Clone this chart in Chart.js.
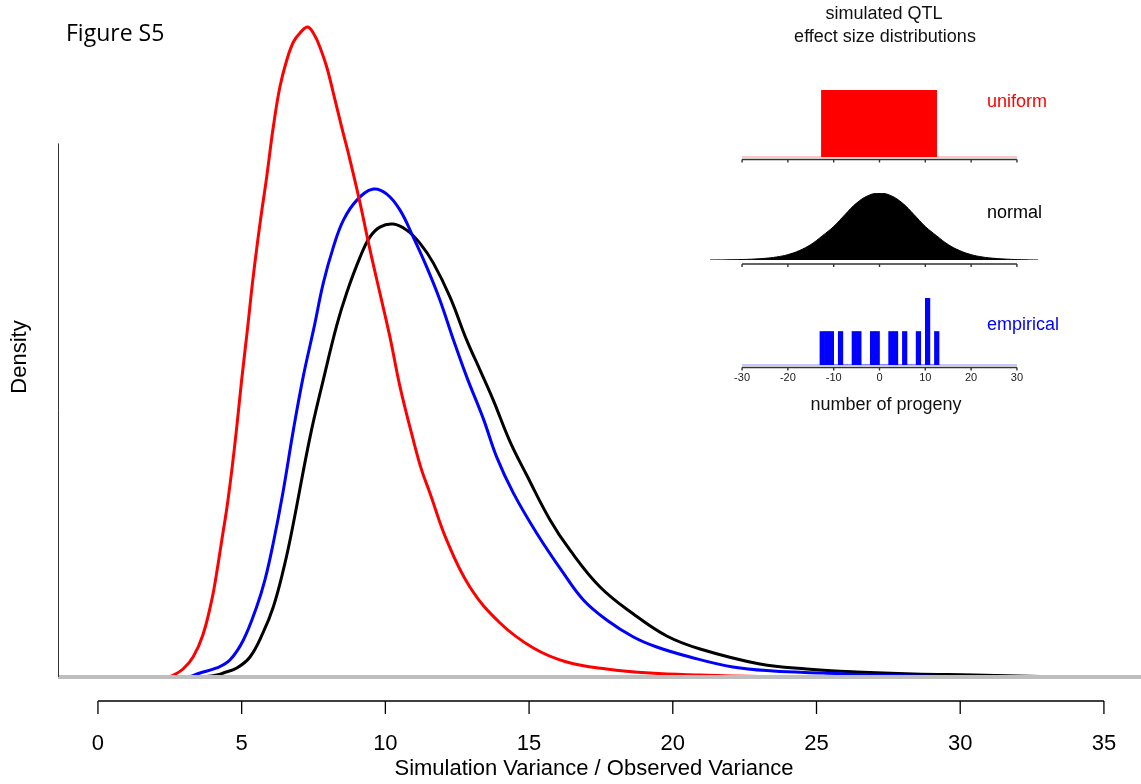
<!DOCTYPE html>
<html>
<head>
<meta charset="utf-8">
<script src="https://cdn.jsdelivr.net/npm/chart.js@4.4.0/dist/chart.umd.min.js"></script>
<style>
  body { margin: 0; background: #fff; }
  #wrap { position: relative; width: 1141px; height: 784px; }
  canvas { position: absolute; }
</style>
</head>
<body>
<div id="wrap">
  <canvas id="main" style="left:0;top:0" width="1141" height="784"></canvas>
  <canvas id="unif" style="left:700px;top:80px" width="380" height="95"></canvas>
  <canvas id="norm" style="left:700px;top:183px" width="380" height="95"></canvas>
  <canvas id="emp" style="left:700px;top:288px" width="380" height="132"></canvas>
</div>
<script>
// density curves, x = simulation variance / observed variance
const redX = [2.4, 2.6, 2.96, 3.31, 3.65, 3.96, 4.13, 4.31, 4.49, 4.65, 4.83, 5.0, 5.19, 5.4, 5.64, 5.87, 6.1, 6.33, 6.57, 6.8, 7.03, 7.3, 7.55, 7.72, 7.96, 8.19, 8.48, 8.77, 9.12, 9.46, 9.81, 10.16, 10.51, 10.97, 11.26, 11.55, 12.13, 12.94, 13.99, 15.15, 16.31, 17.7, 19.21, 20.95, 23.03, 25]
const redY = [0, 0.0004, 0.0024, 0.006, 0.0126, 0.0231, 0.0312, 0.0411, 0.051, 0.0615, 0.075, 0.0891, 0.1034, 0.1199, 0.1361, 0.1499, 0.1649, 0.1769, 0.185, 0.1904, 0.1931, 0.1949, 0.1922, 0.1889, 0.1829, 0.1751, 0.1649, 0.155, 0.1421, 0.1283, 0.1151, 0.1019, 0.087, 0.0711, 0.0621, 0.0552, 0.0411, 0.027, 0.0162, 0.0087, 0.0045, 0.0024, 0.0012, 0.0006, 0.00015, 0]

const blueX = [3.2, 3.55, 4.13, 4.59, 5.06, 5.52, 5.81, 6.1, 6.44, 6.8, 7.14, 7.52, 7.84, 8.19, 8.54, 9.01, 9.58, 10.05, 10.51, 10.97, 11.44, 11.9, 12.36, 12.83, 13.41, 13.87, 14.45, 15.26, 16.19, 16.89, 17.7, 18.63, 19.44, 20.6, 22.09, 23.49, 25.23, 26.97, 29.6, 31]
const blueY = [0, 0.0012, 0.0027, 0.0051, 0.0111, 0.021, 0.0291, 0.0402, 0.0555, 0.0741, 0.09, 0.1049, 0.1181, 0.1289, 0.137, 0.143, 0.1463, 0.1448, 0.14, 0.1319, 0.1229, 0.113, 0.1013, 0.09, 0.0774, 0.066, 0.0552, 0.0432, 0.0312, 0.0231, 0.0171, 0.012, 0.009, 0.006, 0.003, 0.0018, 0.0012, 0.0006, 0.00015, 0]

const blackX = [3.72, 4.13, 4.36, 4.83, 5.29, 5.74, 6.1, 6.45, 6.74, 7.38, 7.84, 8.31, 8.65, 9.12, 9.46, 9.81, 10.27, 10.74, 11.2, 11.67, 12.25, 12.83, 13.29, 13.75, 14.34, 14.92, 15.73, 16.42, 17.47, 18.63, 19.79, 20.95, 23.03, 24.66, 26.4, 28.37, 30.46, 32.78, 35]
const blackY = [0, 0.0006, 0.0012, 0.0027, 0.006, 0.0132, 0.021, 0.0321, 0.0435, 0.072, 0.0891, 0.1055, 0.1151, 0.1259, 0.1319, 0.1349, 0.1358, 0.134, 0.1301, 0.1241, 0.1139, 0.101, 0.0921, 0.0831, 0.0705, 0.0605, 0.0471, 0.0381, 0.027, 0.0189, 0.0123, 0.0084, 0.0039, 0.0024, 0.0015, 0.0009, 0.0006, 0.00015, 0]

const axisTicks = [0, 5, 10, 15, 20, 25, 30, 35]
const yAxisTop = 0.16

// inset: simulated QTL effect size distributions
const insetTicks = [-30, -20, -10, 0, 10, 20, 30]
const unifX = [-12.75, -12.75, 12.55, 12.55]
const unifY = [0, 1, 1, 0]
const normX = [-37, -32, -28, -25, -22.5, -20, -17.5, -15, -12.5, -10, -7.5, -5, -2.5, 0, 2.5, 5, 7.5, 10, 12.5, 15, 17.5, 20, 22.5, 25, 28, 31, 34.6]
const normY = [0, 0.004, 0.012, 0.025, 0.045, 0.08, 0.14, 0.23, 0.36, 0.5, 0.68, 0.85, 0.96, 1, 0.96, 0.85, 0.68, 0.5, 0.36, 0.23, 0.14, 0.08, 0.045, 0.025, 0.012, 0.004, 0]
const empBins = [-12.5, -11.5, -10.5, -9.5, -8.5, -7.5, -6.5, -5.5, -4.5, -3.5, -2.5, -1.5, -0.5, 0.5, 1.5, 2.5, 3.5, 4.5, 5.5, 6.5, 7.5, 8.5, 9.5, 10.5, 11.5, 12.5]
const empCounts = [1, 1, 1, 0, 1, 0, 0, 1, 1, 0, 0, 1, 1, 0, 0, 1, 1, 0, 1, 0, 0, 1, 0, 2, 0, 1]

const FONT = "'Liberation Sans', Arial, sans-serif"
const pts = (xs, ys) => xs.map((x, i) => ({x: x, y: ys[i]}))

// main plot decorations: gray baseline, left line, detached x axis, texts
const mainDecor = {
  id: 'mainDecor',
  afterDatasetsDraw(chart) {
    const {ctx, scales: {x, y}, chartArea} = chart
    const y0 = y.getPixelForValue(0)
    ctx.save()
    ctx.strokeStyle = '#bebebe'
    ctx.lineWidth = 4
    ctx.beginPath()
    ctx.moveTo(chartArea.left, y0)
    ctx.lineTo(chartArea.right, y0)
    ctx.stroke()

    ctx.strokeStyle = '#333'
    ctx.lineWidth = 1
    ctx.beginPath()
    ctx.moveTo(chartArea.left + 0.5, y.getPixelForValue(yAxisTop))
    ctx.lineTo(chartArea.left + 0.5, y0)
    ctx.stroke()
    ctx.restore()
  },
  afterDraw(chart) {
    const {ctx, scales: {x}} = chart
    const ay = 701
    ctx.save()
    ctx.strokeStyle = '#000'
    ctx.lineWidth = 1.3
    ctx.beginPath()
    ctx.moveTo(x.getPixelForValue(axisTicks[0]), ay)
    ctx.lineTo(x.getPixelForValue(axisTicks[axisTicks.length - 1]), ay)
    axisTicks.forEach(t => {
      ctx.moveTo(x.getPixelForValue(t), ay)
      ctx.lineTo(x.getPixelForValue(t), ay + 13)
    })
    ctx.stroke()

    ctx.fillStyle = '#000'
    ctx.font = '22px ' + FONT
    ctx.textAlign = 'center'
    ctx.textBaseline = 'middle'
    axisTicks.forEach(t => ctx.fillText(String(t), x.getPixelForValue(t), 744))
    ctx.fillText('Simulation Variance / Observed Variance', 594, 769)

    ctx.save()
    ctx.translate(20, 357)
    ctx.rotate(-Math.PI / 2)
    ctx.fillText('Density', 0, 0)
    ctx.restore()

    ctx.textAlign = 'left'
    ctx.font = "23px 'Open Sans', sans-serif"
    ctx.fillText('Figure S5', 66, 34)

    ctx.textAlign = 'center'
    ctx.font = '18px ' + FONT
    ctx.fillStyle = '#111'
    ctx.fillText('simulated QTL', 884, 14)
    ctx.fillText('effect size distributions', 885, 37)
    ctx.fillText('number of progeny', 886, 405)

    ctx.textAlign = 'left'
    ctx.fillStyle = '#ff0000'
    ctx.fillText('uniform', 987, 102)
    ctx.fillStyle = '#000'
    ctx.fillText('normal', 987, 213)
    ctx.fillStyle = '#0000ff'
    ctx.fillText('empirical', 987, 325)
    ctx.restore()
  }
}

new Chart('main', {
  type: 'line',
  data: {
    datasets: [
      {data: pts(redX, redY), borderColor: '#ff0000'},
      {data: pts(blueX, blueY), borderColor: '#0000ff'},
      {data: pts(blackX, blackY), borderColor: '#000000'}
    ]
  },
  options: {
    responsive: false,
    animation: false,
    layout: {padding: {left: 58, right: 0, top: 10, bottom: 107}},
    elements: {
      point: {radius: 0},
      line: {borderWidth: 3, tension: 0.4, fill: false}
    },
    scales: {
      x: {type: 'linear', display: false, min: -1.39, max: 36.29},
      y: {display: false, min: 0, max: 0.2}
    },
    plugins: {legend: {display: false}, tooltip: {enabled: false}}
  },
  plugins: [mainDecor]
})

// small axis under each inset panel
function insetAxis(paleColor, gap, labels) {
  return {
    id: 'insetAxis',
    beforeDatasetsDraw(chart) {
      if (!paleColor) return
      const {ctx, scales: {x, y}} = chart
      const y0 = y.getPixelForValue(0)
      ctx.save()
      ctx.strokeStyle = paleColor
      ctx.lineWidth = 1.5
      ctx.beginPath()
      ctx.moveTo(x.getPixelForValue(insetTicks[0]), y0)
      ctx.lineTo(x.getPixelForValue(insetTicks[insetTicks.length - 1]), y0)
      ctx.stroke()
      ctx.restore()
    },
    afterDraw(chart) {
      const {ctx, scales: {x, y}} = chart
      const ay = y.getPixelForValue(0) + gap
      ctx.save()
      ctx.strokeStyle = '#333'
      ctx.lineWidth = 1.4
      ctx.beginPath()
      ctx.moveTo(x.getPixelForValue(insetTicks[0]), ay)
      ctx.lineTo(x.getPixelForValue(insetTicks[insetTicks.length - 1]), ay)
      insetTicks.forEach(t => {
        ctx.moveTo(x.getPixelForValue(t), ay)
        ctx.lineTo(x.getPixelForValue(t), ay + 3)
      })
      ctx.stroke()
      if (labels) {
        ctx.fillStyle = '#222'
        ctx.font = '11px ' + FONT
        ctx.textAlign = 'center'
        ctx.textBaseline = 'middle'
        insetTicks.forEach(t => ctx.fillText(String(t), x.getPixelForValue(t), ay + 10))
      }
      ctx.restore()
    }
  }
}

function insetOptions(ymax, padBottom) {
  return {
    responsive: false,
    animation: false,
    layout: {padding: {left: 10, right: 42, top: 10, bottom: padBottom}},
    elements: {point: {radius: 0}},
    scales: {
      x: {type: 'linear', display: false, min: -37, max: 34.6, offset: false},
      y: {display: false, min: 0, max: ymax}
    },
    plugins: {legend: {display: false}, tooltip: {enabled: false}}
  }
}

new Chart('unif', {
  type: 'line',
  data: {
    datasets: [{
      data: pts(unifX, unifY),
      borderWidth: 0,
      borderColor: '#ff0000',
      backgroundColor: '#ff0000',
      fill: 'origin',
      tension: 0
    }]
  },
  options: insetOptions(1, 18),
  plugins: [insetAxis('#ffb3b3', 2.5, false)]
})

new Chart('norm', {
  type: 'line',
  data: {
    datasets: [{
      data: pts(normX, normY),
      borderWidth: 1,
      borderColor: '#000',
      backgroundColor: '#000',
      fill: 'origin',
      tension: 0.4
    }]
  },
  options: insetOptions(1, 18),
  plugins: [insetAxis(null, 4, false)]
})

new Chart('emp', {
  type: 'bar',
  data: {
    datasets: [{
      data: pts(empBins, empCounts),
      backgroundColor: '#0000ff',
      borderWidth: 0,
      barPercentage: 1,
      categoryPercentage: 1
    }]
  },
  options: insetOptions(2, 55),
  plugins: [insetAxis('#b3b3ff', 2.5, true)]
})
</script>
</body>
</html>
